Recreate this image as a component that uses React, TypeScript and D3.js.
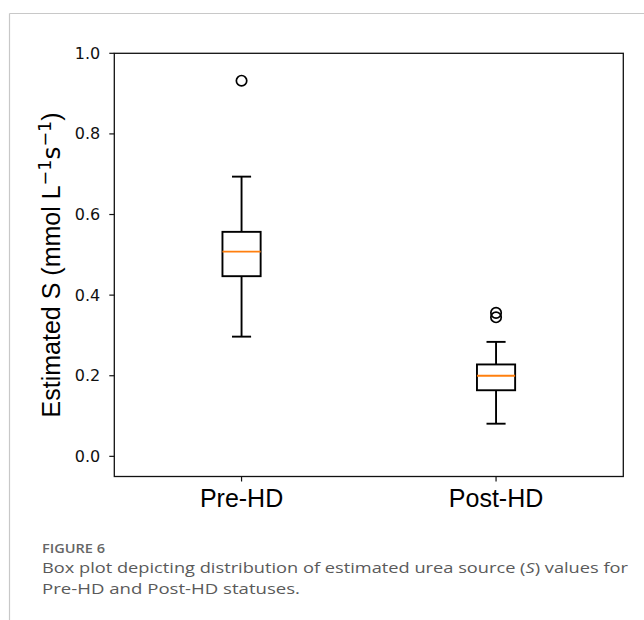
import React from "react";
import * as d3 from "d3";

const categories = ["Pre-HD", "Post-HD"];
const whiskerLow = [0.297, 0.081];
const q1 = [0.447, 0.164];
const medians = [0.508, 0.2];
const q3 = [0.557, 0.228];
const whiskerHigh = [0.694, 0.284];
const outliers = [[0.932], [0.356, 0.345]];
const yTicks = [0.0, 0.2, 0.4, 0.6, 0.8, 1.0];

const W = 644;
const H = 620;

export default function App() {
  const x = d3.scaleLinear().domain([0.5, 2.5]).range([114.3, 623.3]);
  const y = d3.scaleLinear().domain([-0.05, 1.0]).range([476.5, 53.3]);
  const boxW = x(1.15) - x(1);
  const capW = boxW / 2;
  const fmt = d3.format(".1f");
  const [x0, x1] = x.range();
  const [y0, y1] = y.range();

  return (
    <svg
      width={W}
      height={H}
      style={{ position: "absolute", left: 0, top: 0, background: "#fff" }}
    >
      <rect x={0} y={0} width={W} height={H} fill="#fff" />
      {/* page frame */}
      <line x1={9.5} y1={13.5} x2={W} y2={13.5} stroke="#c8c8c8" strokeWidth={1.2} />
      <line x1={9.5} y1={13.5} x2={9.5} y2={H} stroke="#c8c8c8" strokeWidth={1.2} />

      {/* boxes */}
      {categories.map((c, i) => {
        const cx = x(i + 1);
        return (
          <g key={c} stroke="#000" strokeWidth={1.9} fill="none">
            <line x1={cx} x2={cx} y1={y(q3[i])} y2={y(whiskerHigh[i])} />
            <line x1={cx} x2={cx} y1={y(q1[i])} y2={y(whiskerLow[i])} />
            <line x1={cx - capW / 2} x2={cx + capW / 2} y1={y(whiskerHigh[i])} y2={y(whiskerHigh[i])} />
            <line x1={cx - capW / 2} x2={cx + capW / 2} y1={y(whiskerLow[i])} y2={y(whiskerLow[i])} />
            <rect x={cx - boxW / 2} y={y(q3[i])} width={boxW} height={y(q1[i]) - y(q3[i])} />
            <line
              x1={cx - boxW / 2}
              x2={cx + boxW / 2}
              y1={y(medians[i])}
              y2={y(medians[i])}
              stroke="#ff7f0e"
            />
            {outliers[i].map((v, j) => (
              <circle key={j} cx={cx} cy={y(v)} r={5.2} stroke="#000" strokeWidth={1.7} fill="none" />
            ))}
          </g>
        );
      })}

      {/* spines */}
      <rect x={x0} y={y1} width={x1 - x0} height={y0 - y1} fill="none" stroke="#111" strokeWidth={1.3} />

      {/* y ticks */}
      {yTicks.map((t) => (
        <g key={t}>
          <line x1={x0 - 5} x2={x0} y1={y(t)} y2={y(t)} stroke="#111" strokeWidth={1.2} />
          <text
            x={x0 - 14}
            y={y(t)}
            textAnchor="end"
            dominantBaseline="central"
            fontFamily="DejaVu Sans"
            fontSize={16}
            fill="#111"
          >
            {fmt(t)}
          </text>
        </g>
      ))}

      {/* x ticks */}
      {categories.map((c, i) => (
        <g key={c}>
          <line x1={x(i + 1)} x2={x(i + 1)} y1={y0} y2={y0 + 5} stroke="#111" strokeWidth={1.2} />
          <text
            x={x(i + 1)}
            y={507.3}
            textAnchor="middle"
            fontFamily="Liberation Sans, Arial, sans-serif"
            fontSize={25}
            fill="#000"
          >
            {c}
          </text>
        </g>
      ))}

      {/* y label */}
      <text
        transform={`translate(60, ${(y0 + y1) / 2}) rotate(-90)`}
        textAnchor="middle"
        fontFamily="Liberation Sans, Arial, sans-serif"
        fontSize={25}
        fill="#000"
      >
        <tspan>Estimated S (mmol L</tspan>
        <tspan fontFamily="DejaVu Sans" fontSize={17.5} dy={-9}>−1</tspan>
        <tspan fontFamily="DejaVu Sans" fontSize={25} dy={9}>s</tspan>
        <tspan fontFamily="DejaVu Sans" fontSize={17.5} dy={-9}>−1</tspan>
        <tspan dy={9}>)</tspan>
      </text>

      {/* caption */}
      <text
        x={42}
        y={553}
        fontFamily="Open Sans"
        fontWeight={600}
        fontSize={12}
        fill="#666"
        textLength={63}
        lengthAdjust="spacingAndGlyphs"
      >
        FIGURE 6
      </text>
      <text
        x={42}
        y={573}
        fontFamily="Open Sans"
        fontWeight={400}
        fontSize={15}
        fill="#5a5a5a"
        textLength={586}
        lengthAdjust="spacingAndGlyphs"
      >
        Box plot depicting distribution of estimated urea source (<tspan fontStyle="italic">S</tspan>) values for
      </text>
      <text
        x={42}
        y={594}
        fontFamily="Open Sans"
        fontWeight={400}
        fontSize={15}
        fill="#5a5a5a"
        textLength={258}
        lengthAdjust="spacingAndGlyphs"
      >
        Pre-HD and Post-HD statuses.
      </text>
    </svg>
  );
}
